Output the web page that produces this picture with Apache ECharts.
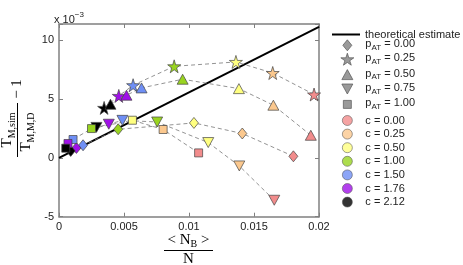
<!DOCTYPE html>
<html><head><meta charset="utf-8">
<script src="https://cdn.jsdelivr.net/npm/echarts@6/dist/echarts.min.js"></script>
<style>html,body{margin:0;padding:0;background:#fff}#c{width:463px;height:265px}</style>
</head><body><div id="c"></div>
<script>
// ---- data ----
const cLabels = ['0.00', '0.25', '0.50', '1.00', '1.50', '1.76', '2.12'];
const pLabels = ['0.00', '0.25', '0.50', '0.75', '1.00'];
// values ordered by c (0.00 ... 2.12); y in units of 1e-3
const xDiamond = [0.01803, 0.0141, 0.01038, 0.00455, 0.00185, 0.00134, 0.0009];
const yDiamond = [0.14, 2.08, 2.98, 2.44, 1.08, 0.85, 0.6];
const xStar = [0.01962, 0.01644, 0.01361, 0.00886, 0.0057, 0.0046, 0.00347];
const yStar = [5.4, 7.23, 8.17, 7.8, 6.19, 5.28, 4.26];
const xTriUp = [0.01937, 0.01649, 0.01384, 0.00951, 0.00635, 0.00519, 0.00396];
const yTriUp = [1.93, 4.49, 5.9, 6.7, 5.96, 5.34, 4.57];
const xTriDown = [0.01656, 0.01387, 0.01148, 0.00755, 0.00488, 0.00383, 0.00288];
const yTriDown = [-3.6, -0.68, 1.31, 3.06, 3.2, 2.87, 2.6];
const xSquare = [0.01074, 0.00801, 0.00565, 0.0025, 0.00108, 0.00069, 0.00052];
const ySquare = [0.43, 2.42, 3.21, 2.5, 1.57, 1.23, 0.83];
const theoryX = [0, 0.02];
const theoryY = [0, 11.15];
const xTicks = [0, 0.005, 0.01, 0.015, 0.02];
const yTicks = [-5, 0, 5, 10];

// ---- styles ----
const cColors = ['#F28C8C', '#FBC88E', '#FFFF80', '#99D420', '#6F8FF5', '#A010E8', '#000000'];
const starPath = 'path://M50,0 L61,35 L98,35 L68,57 L79,91 L50,70 L21,91 L32,57 L2,35 L39,35 Z';
const triDownPath = 'path://M0,0 L20,0 L10,17 Z';
const triUpPath = 'path://M10,0 L20,17 L0,17 Z';
const pX = [xDiamond, xStar, xTriUp, xTriDown, xSquare];
const pY = [yDiamond, yStar, yTriUp, yTriDown, ySquare];
const pSymbols = ['diamond', starPath, triUpPath, triDownPath, 'rect'];
const pSizes = [[9, 11], 13, [11, 10], [11, 10], 8];
const pLegendWH = [[9, 11], [13, 12], [11, 10], [11, 10], [8, 8]];
const edge = '#444';
const axisGray = '#808080';

const series = [];
series.push({
  name: 'theoretical estimate', type: 'line', z: 2,
  data: theoryX.map((x, i) => [x, theoryY[i]]),
  symbol: 'none', lineStyle: { color: '#000', width: 2 }, itemStyle: { color: '#000' },
  silent: true
});
pLabels.forEach((p, k) => {
  series.push({
    name: 'p_AT = ' + p, type: 'line', z: 3,
    symbol: pSymbols[k], symbolSize: pSizes[k], symbolKeepAspect: false,
    showSymbol: true, showAllSymbol: true,
    lineStyle: { color: '#777', width: 0.8, type: [4, 3] },
    itemStyle: { color: '#aaa', borderColor: edge, borderWidth: 0.7 },
    emphasis: { disabled: true },
    data: pX[k].map((x, i) => ({ value: [x, pY[k][i]], itemStyle: { color: cColors[i] } }))
  });
});
cLabels.forEach((c, i) => {
  series.push({ name: 'c = ' + c, type: 'scatter', data: [], itemStyle: { color: cColors[i] } });
});

// ---- legend rows ----
const legendRows = [];
legendRows.push({ name: 'theoretical estimate', icon: 'rect', w: 28, h: 2, y: 30, left: 332,
  style: { color: '#000', borderWidth: 0 } });
pLabels.forEach((p, k) => {
  legendRows.push({ name: 'p_AT = ' + p, icon: pSymbols[k], w: pLegendWH[k][0], h: pLegendWH[k][1], y: 44.3 + k * 14.4,
    style: { color: '#9a9a9a', borderColor: '#555', borderWidth: 0.7 } });
});
cLabels.forEach((c, i) => {
  legendRows.push({ name: 'c = ' + c, icon: 'circle', w: 10, h: 10, y: 120 + i * 13.6,
    style: { color: cColors[i], borderColor: '#555', borderWidth: 0.7 } });
});
const textX = 365;
const legends = legendRows.map(r => {
  const left = r.left !== undefined ? r.left : 347 - r.w / 2;
  const pad = textX - (left + r.w + 5);
  return {
    show: true, selectedMode: false, orient: 'vertical', padding: 0,
    left: left, top: r.y - r.h / 2,
    itemWidth: r.w, itemHeight: r.h, itemGap: 0, symbolKeepAspect: false,
    data: [{ name: r.name, icon: r.icon, itemStyle: r.style }],
    formatter: function (name) {
      if (name.indexOf('p_AT') === 0) return '{p|p}{s|AT}{p|' + name.slice(4) + '}';
      return name;
    },
    textStyle: {
      fontFamily: 'Liberation Sans', fontSize: 11, color: '#222', padding: [0, 0, 0, pad],
      rich: {
        p: { fontFamily: 'Liberation Sans', fontSize: 11, color: '#222', verticalAlign: 'top', lineHeight: 12 },
        s: { fontFamily: 'Liberation Sans', fontSize: 8, color: '#222', verticalAlign: 'bottom', lineHeight: 13 }
      }
    }
  };
});

const serif = 'Liberation Serif';
const option = {
  animation: false,
  backgroundColor: '#fff',
  grid: { left: 59, right: 144, top: 24, bottom: 48.3, outerBoundsMode: 'none' },
  xAxis: [
    { type: 'value', min: 0, max: 0.02, interval: 0.005, position: 'bottom',
      axisLine: { show: true, onZero: false, lineStyle: { color: axisGray, width: 1.5 } },
      axisTick: { show: true, inside: true, length: 4, lineStyle: { color: axisGray } },
      axisLabel: { color: '#222', fontSize: 11, fontFamily: 'Liberation Sans', margin: 5,
        formatter: v => (xTicks.some(t => Math.abs(t - v) < 1e-9) ? String(+v.toFixed(3)) : '') },
      splitLine: { show: false } },
    { type: 'value', min: 0, max: 0.02, interval: 0.005, position: 'top',
      axisLine: { show: true, onZero: false, lineStyle: { color: axisGray, width: 1.5 } },
      axisTick: { show: true, inside: true, length: 4, lineStyle: { color: axisGray } },
      axisLabel: { show: false }, splitLine: { show: false } }
  ],
  yAxis: [
    { type: 'value', min: -5, max: 11.4, interval: 5, position: 'left',
      axisLine: { show: true, onZero: false, lineStyle: { color: axisGray, width: 1.5 } },
      axisTick: { show: true, inside: true, length: 4, lineStyle: { color: axisGray } },
      axisLabel: { color: '#222', fontSize: 11, fontFamily: 'Liberation Sans', margin: 5,
        formatter: v => (yTicks.indexOf(v) >= 0 ? String(v) : '') },
      splitLine: { show: false } },
    { type: 'value', min: -5, max: 11.4, interval: 5, position: 'right',
      axisLine: { show: true, onZero: false, lineStyle: { color: axisGray, width: 1.5 } },
      axisTick: { show: true, inside: true, length: 4, lineStyle: { color: axisGray } },
      axisLabel: { show: false }, splitLine: { show: false } }
  ],
  legend: legends,
  series: series,
  graphic: [
    // x 10^-3
    { type: 'text', x: 54, y: 18, style: {
      text: '{a|x 10}{u|\u22123}', verticalAlign: 'middle', align: 'left',
      rich: { a: { fontFamily: 'Liberation Sans', fontSize: 11, fill: '#222', verticalAlign: 'bottom', lineHeight: 15 },
              u: { fontFamily: 'Liberation Sans', fontSize: 8, fill: '#222', verticalAlign: 'top', lineHeight: 15 } } } },
    // x axis name: <N_B> / N
    { type: 'text', x: 188.5, y: 241, style: {
      text: '{a|< N}{s|B}{a| >}', align: 'center', verticalAlign: 'middle',
      rich: { a: { fontFamily: serif, fontSize: 15, fill: '#000', verticalAlign: 'top', lineHeight: 16 },
              s: { fontFamily: serif, fontSize: 10, fill: '#000', verticalAlign: 'bottom', lineHeight: 17 } } } },
    { type: 'line', shape: { x1: 164, y1: 250.5, x2: 213, y2: 250.5 }, style: { stroke: '#000', lineWidth: 1 } },
    { type: 'text', x: 188.5, y: 259, style: { text: 'N', align: 'center', verticalAlign: 'middle',
      font: '15px "Liberation Serif"', fill: '#000' } },
    // y axis name (rotated)
    { type: 'group', x: 17.5, y: 120, rotation: Math.PI / 2, children: [
      { type: 'text', x: -10, y: -9, style: {
        text: '{t|T}{s|M,sim}', align: 'center', verticalAlign: 'middle',
        rich: { t: { fontFamily: serif, fontSize: 15, fill: '#000', verticalAlign: 'top', lineHeight: 16 },
                s: { fontFamily: serif, fontSize: 10, fill: '#000', verticalAlign: 'bottom', lineHeight: 18 } } } },
      { type: 'line', shape: { x1: -37, y1: 0, x2: 17, y2: 0 }, style: { stroke: '#000', lineWidth: 1 } },
      { type: 'text', x: -12, y: 10, style: {
        text: '{t|T}{s|M,M,D}', align: 'center', verticalAlign: 'middle',
        rich: { t: { fontFamily: serif, fontSize: 15, fill: '#000', verticalAlign: 'top', lineHeight: 16 },
                s: { fontFamily: serif, fontSize: 10, fill: '#000', verticalAlign: 'bottom', lineHeight: 18 } } } },
      { type: 'text', x: 31, y: 0, style: { text: '\u2212 1', align: 'center', verticalAlign: 'middle',
        font: '15px "Liberation Serif"', fill: '#000' } }
    ] }
  ]
};
const chart = echarts.init(document.getElementById('c'), null, { renderer: 'canvas' });
chart.setOption(option);
</script>
</body></html>
